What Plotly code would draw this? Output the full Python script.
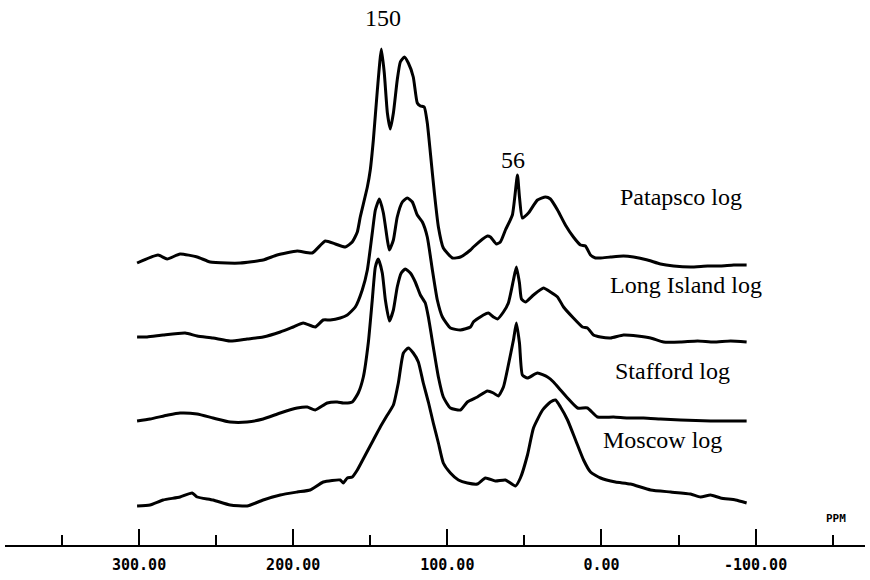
import plotly.graph_objects as go

# Chemical shift (ppm) and intensity readings for each log, top to bottom
patapsco_ppm = [301.3, 287.7, 281.8, 273.4, 262.3, 253.9, 242.9, 234.4, 219.5, 210.4,
                197.4, 187.7, 179.2, 172.7, 166.2, 161.7, 158.4, 156.5, 151.9, 150.0,
                148.0, 145.4, 142.8, 140.9, 138.9, 137.0, 135.0, 132.5, 130.5, 127.9,
                125.3, 122.1, 119.5, 117.5, 115.0, 113.0, 111.0, 108.4, 105.8, 102.6,
                96.7, 91.5, 85.0, 83.1, 74.0, 72.0, 68.2, 65.6, 62.3, 57.8,
                54.5, 53.2, 51.3, 47.4, 41.5, 36.3, 33.1, 28.5, 23.4, 18.2,
                13.6, 10.4, 7.1, 3.9, 0.6, -5.9, -14.3, -20.8, -29.9, -38.3,
                -46.8, -57.8, -68.9, -77.3, -85.8, -94.2]
patapsco_int = [2, 10, 6, 11, 8, 3, 2, 2, 5, 10,
                14, 12, 24, 21, 18, 23, 33, 48, 78, 95,
                125, 175, 216, 192, 152, 136, 152, 185, 203, 208,
                202, 188, 162, 159, 158, 142, 112, 72, 38, 17,
                7, 8, 15, 18, 29, 28, 21, 23, 35, 50,
                90, 68, 47, 52, 65, 68, 66, 55, 40, 28,
                20, 19, 10, 7, 7, 8, 9, 8, 5, 1,
                -1, -2, -1, -1, 0, 0]

long_island_ppm = [301.3, 294.8, 284.4, 270.1, 262.3, 252.0, 240.9, 229.9, 219.5, 208.4,
                   200.0, 193.5, 185.7, 180.5, 176.0, 169.5, 164.9, 159.7, 155.2, 151.9,
                   148.7, 146.7, 144.1, 141.5, 138.9, 137.6, 135.0, 132.5, 129.2, 126.0,
                   122.7, 119.5, 116.2, 113.0, 109.7, 106.5, 103.2, 98.0, 91.5, 85.0,
                   83.1, 76.6, 73.4, 70.1, 67.5, 63.6, 60.4, 57.1, 55.2, 53.2,
                   51.9, 49.3, 44.1, 37.6, 33.1, 28.5, 24.6, 18.2, 12.3, 9.1,
                   5.2, 0.6, -5.9, -14.3, -23.4, -31.9, -40.3, -51.3, -62.4, -72.8,
                   -83.8, -94.2]
long_island_int = [5, 5, 7, 9, 6, 4, 1, 3, 5, 10,
                   15, 19, 15, 22, 22, 24, 27, 35, 52, 72,
                   109, 132, 143, 129, 102, 92, 102, 125, 140, 144,
                   140, 127, 120, 105, 72, 42, 25, 14, 12, 15,
                   20, 27, 29, 25, 23, 30, 39, 62, 75, 59,
                   43, 40, 47, 54, 50, 45, 35, 24, 15, 14,
                   7, 5, 4, 7, 6, 4, 0, 0, 1, 0,
                   1, 0]

stafford_ppm = [301.3, 292.9, 281.2, 273.4, 262.3, 252.0, 240.9, 229.9, 219.5, 208.4,
                197.4, 190.9, 185.7, 177.9, 171.4, 167.5, 161.7, 157.8, 154.5, 151.3,
                148.7, 146.7, 144.8, 142.2, 140.2, 137.6, 135.0, 132.5, 129.9, 127.3,
                124.0, 120.8, 117.5, 114.3, 112.3, 109.1, 105.8, 102.6, 98.0, 91.5,
                87.0, 80.5, 74.0, 70.1, 66.9, 63.6, 60.4, 57.1, 55.2, 53.2,
                51.3, 48.0, 41.5, 35.0, 31.1, 26.6, 22.0, 15.5, 9.1, 2.6,
                -7.8, -16.9, -27.3, -38.3, -51.3, -70.8, -94.2]
stafford_int = [0, 2, 6, 8, 7, 3, -1, -1, 2, 8,
                13, 14, 11, 18, 19, 18, 19, 28, 44, 78,
                121, 154, 162, 148, 121, 100, 111, 134, 148, 152,
                148, 139, 126, 118, 104, 74, 44, 24, 13, 11,
                19, 24, 30, 28, 25, 34, 56, 81, 98, 78,
                46, 43, 48, 44, 39, 31, 23, 13, 13, 4,
                4, 3, 3, 2, 1, 0, 0]

moscow_ppm = [301.3, 292.9, 284.4, 273.4, 265.6, 262.3, 252.0, 240.9, 229.9, 219.5,
              208.4, 197.4, 189.0, 180.5, 169.5, 167.5, 164.9, 161.7, 158.4, 153.2,
              148.0, 143.5, 138.9, 135.0, 131.8, 128.5, 125.3, 122.1, 118.8, 115.6,
              112.3, 109.1, 105.8, 102.6, 98.0, 92.8, 87.0, 80.5, 75.3, 68.8,
              62.3, 55.8, 52.6, 48.0, 44.1, 38.2, 33.1, 29.8, 26.6, 22.0,
              16.8, 11.6, 7.1, 0.6, -9.1, -18.8, -31.9, -44.9, -57.8, -64.3,
              -70.8, -77.3, -87.0, -94.2]
moscow_int = [-3, -2, 3, 6, 10, 6, 3, -2, -3, 3,
              8, 11, 13, 21, 23, 20, 25, 26, 33, 48,
              63, 76, 88, 98, 120, 150, 155, 150, 141, 120,
              101, 80, 60, 40, 30, 23, 20, 19, 25, 22,
              23, 17, 25, 48, 75, 93, 101, 103, 96, 83,
              63, 43, 31, 25, 21, 19, 13, 11, 9, 6,
              8, 5, 3, 0]

names = ["Patapsco log", "Long Island log", "Stafford log", "Moscow log"]
stack_offsets = [280, 203, 124, 42]
series = [(patapsco_ppm, patapsco_int), (long_island_ppm, long_island_int),
          (stafford_ppm, stafford_int), (moscow_ppm, moscow_int)]

major_ticks = [300, 200, 100, 0, -100]
major_labels = ["300.00", "200.00", "100.00", "0.00", "-100.00"]
minor_ticks = [350, 250, 150, 50, -50, -150]

fig = go.Figure()
for (ppm, inten), off, name in zip(series, stack_offsets, names):
    fig.add_trace(go.Scatter(
        x=ppm, y=[v + off for v in inten], mode="lines", name=name,
        line=dict(color="black", width=3, shape="spline", smoothing=0.5),
        hoverinfo="skip", showlegend=False))

serif = "Liberation Serif, Times New Roman, serif"
label_pos = [(-51.3, 348), (-54.6, 260), (-46.1, 174), (-39.6, 105)]
for name, (lx, ly) in zip(names, label_pos):
    fig.add_annotation(x=lx, y=ly, text=name, showarrow=False,
                       font=dict(family=serif, size=24, color="black"))

fig.add_annotation(x=141.5, y=527, text="150", showarrow=False,
                   font=dict(family=serif, size=24, color="black"))
fig.add_annotation(x=57.1, y=385, text="56", showarrow=False,
                   font=dict(family=serif, size=24, color="black"))
fig.add_annotation(x=-152, y=27, text="<b>PPM</b>", showarrow=False,
                   font=dict(family="DejaVu Sans Mono", size=11, color="black"))

fig.update_layout(
    width=870, height=580,
    margin=dict(l=5, r=5, t=0, b=35),
    paper_bgcolor="white", plot_bgcolor="white",
    xaxis=dict(
        range=[387, -171], showgrid=False, zeroline=False,
        showline=True, linecolor="black", linewidth=2,
        ticks="inside", ticklen=16, tickwidth=2, tickcolor="black",
        tickmode="array", tickvals=major_ticks, ticktext=major_labels,
        tickfont=dict(family="DejaVu Sans Mono", size=15, color="black", weight="bold"),
        ticklabelstandoff=5,
        minor=dict(tickvals=minor_ticks, ticks="inside", ticklen=10,
                   tickwidth=2, tickcolor="black", showgrid=False),
    ),
    yaxis=dict(range=[0, 545], visible=False, showgrid=False, zeroline=False),
)

fig.write_html("out.html")
